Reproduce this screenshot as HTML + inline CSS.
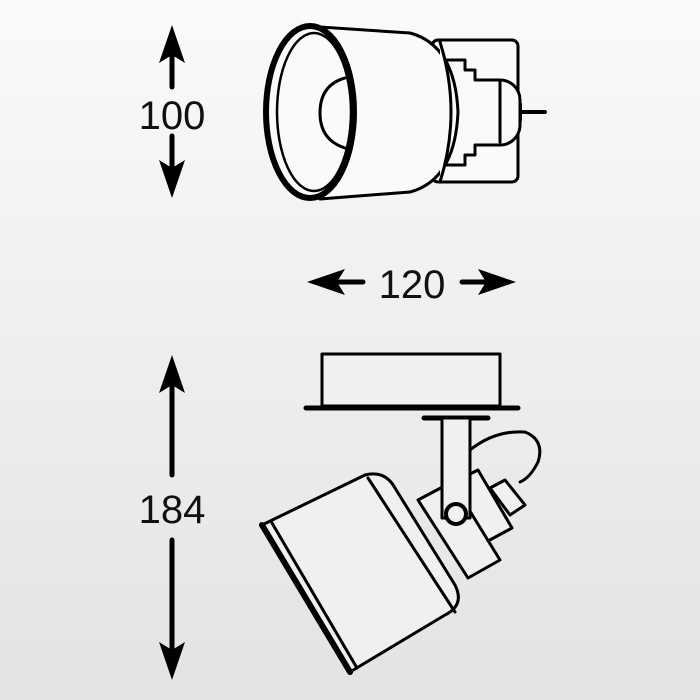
<!DOCTYPE html>
<html><head><style>
html,body{margin:0;padding:0}
body{width:700px;height:700px;overflow:hidden;background:linear-gradient(#fafafa,#e3e3e3)}
svg{display:block}
text{font-family:"Liberation Sans",Arial,sans-serif;font-size:40px;fill:#111}
</style></head><body>
<svg width="700" height="700" viewBox="0 0 700 700" fill="none" stroke="#000" stroke-linecap="round" stroke-linejoin="round">
<defs>
<path id="ah" d="M0,0 L-13,38 L0,30 L13,38 Z" fill="#000" stroke="none"/>
</defs>
<!-- 100 -->
<line x1="172" y1="45" x2="172" y2="87" stroke-width="5"/>
<use href="#ah" x="172" y="25"/>
<line x1="172" y1="136" x2="172" y2="175" stroke-width="5"/>
<use href="#ah" transform="translate(172,198) rotate(180)"/>
<text x="172" y="129" text-anchor="middle" stroke="none">100</text>
<!-- 120 -->
<line x1="330" y1="282" x2="363" y2="282" stroke-width="5"/>
<use href="#ah" transform="translate(307,282) rotate(-90)"/>
<line x1="462" y1="282" x2="495" y2="282" stroke-width="5"/>
<use href="#ah" transform="translate(516,282) rotate(90)"/>
<text x="412" y="298" text-anchor="middle" stroke="none">120</text>
<!-- 184 -->
<line x1="172" y1="375" x2="172" y2="475" stroke-width="5"/>
<use href="#ah" x="172" y="355"/>
<line x1="172" y1="540" x2="172" y2="658" stroke-width="5"/>
<use href="#ah" transform="translate(172,680) rotate(180)"/>
<text x="172" y="523" text-anchor="middle" stroke="none">184</text>

<!-- top view -->
<g stroke-width="3" fill="#fafafa">
<rect x="432" y="40" width="86" height="142" rx="6"/>
<path d="M520,104 L520,120 M520,112 L545,112" stroke-width="4"/>
<path d="M445,60 h20 v10 h10 v10 h25 a20,20 0 0 1 20,20 v25 a20,20 0 0 1 -20,20 h-25 v10 h-10 v10 h-20 z"/>
<path d="M500,82 v60"/>
<path d="M320,27 L410,33 Q455,45 458,112 Q455,180 410,192 L320,199 Z"/>
<path d="M440,42 Q462,112 440,182"/>
</g>
<ellipse cx="310" cy="112" rx="44" ry="86" stroke-width="6" fill="#fafafa"/>
<ellipse cx="314" cy="112" rx="37" ry="79" stroke-width="2.5"/>
<path d="M345,78 Q320,85 320,113 Q320,140 345,148" stroke-width="3"/>

<!-- bottom view -->
<g stroke-width="3" fill="#f0f0f0">
<rect x="322" y="354" width="178" height="52"/>
<line x1="306" y1="408" x2="518" y2="408" stroke-width="5"/>
<line x1="424" y1="418" x2="488" y2="418" stroke-width="5"/>
<path d="M470,450 Q495,430 525,432 Q545,440 538,462 Q530,478 520,482" fill="none"/>
<path d="M428,495 L478,470 L512,528 L462,555 Z"/>
<path d="M490,488 L505,480 L525,505 L510,515 Z"/>
<path d="M418,500 L452,482 L500,560 L468,578 Z"/>
<path d="M262,525 L365,475 Q385,470 395,488 L455,585 Q465,605 445,615 L350,672 Z"/>
<path d="M368,478 L455,612"/>
<path d="M262,525 L350,672" stroke-width="6"/>
<path d="M272,523 L357,668"/>
<rect x="442" y="418" width="28" height="100"/>
<circle cx="456" cy="514" r="10" stroke-width="4"/>
</g>
</svg>
</body></html>
